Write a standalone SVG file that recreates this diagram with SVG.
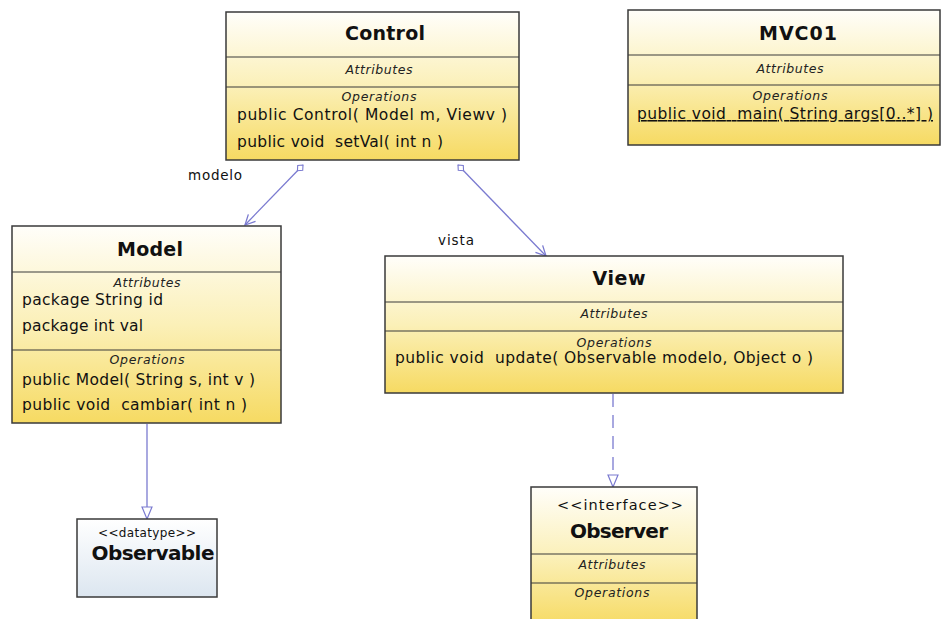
<svg xmlns="http://www.w3.org/2000/svg" width="942" height="619" viewBox="0 0 942 619">
<defs>
<linearGradient id="gy" x1="0" y1="0" x2="0" y2="1">
<stop offset="0" stop-color="#fffefa"/>
<stop offset="0.5" stop-color="#fbf0b8"/>
<stop offset="1" stop-color="#f6da62"/>
</linearGradient>
<linearGradient id="gb" x1="0" y1="0" x2="0" y2="1">
<stop offset="0" stop-color="#ffffff"/>
<stop offset="1" stop-color="#dce6f0"/>
</linearGradient>
<marker id="open" viewBox="0 0 12 12" refX="11" refY="6" markerWidth="12" markerHeight="12" markerUnits="userSpaceOnUse" orient="auto">
<path d="M1,1 L11,6 L1,11" fill="none" stroke="#7a7ad0" stroke-width="1.3"/>
</marker>
<marker id="tri" viewBox="0 0 14 12" refX="13" refY="6" markerWidth="14" markerHeight="12" markerUnits="userSpaceOnUse" orient="auto">
<path d="M1,1 L13,6 L1,11 Z" fill="#ffffff" stroke="#7a7ad0" stroke-width="1.2"/>
</marker>
<marker id="dia" viewBox="0 0 10 10" refX="1" refY="5" markerWidth="10" markerHeight="10" markerUnits="userSpaceOnUse" orient="auto">
<path d="M1,5 L5,1.5 L9,5 L5,8.5 Z" fill="#ffffff" stroke="#7a7ad0" stroke-width="1.1"/>
</marker>
</defs>
<style>
.box{stroke:#3a3a3a;stroke-width:1.5}
.sep{stroke:#3a3a3a;stroke-width:1.2}
text{white-space:pre}
.t{font-family:"DejaVu Sans",sans-serif;font-weight:bold;font-size:19px;fill:#111;text-anchor:middle}
.c{font-family:"DejaVu Sans",sans-serif;font-style:italic;font-size:12.5px;fill:#222;text-anchor:middle}
.m{font-family:"DejaVu Sans",sans-serif;font-size:15.5px;fill:#111}
.l{font-family:"DejaVu Sans",sans-serif;font-size:13.5px;fill:#111}
.s{font-family:"DejaVu Sans",sans-serif;font-size:14.5px;fill:#111;text-anchor:middle}
.e{fill:none;stroke:#7a7ad0;stroke-width:1.3}
</style>
<g id="connectors">
<line class="e" x1="303" y1="165" x2="245" y2="225" marker-start="url(#dia)" marker-end="url(#open)"/>
<line class="e" x1="458" y1="165" x2="546" y2="256" marker-start="url(#dia)" marker-end="url(#open)"/>
<line class="e" x1="147" y1="424" x2="147" y2="519" marker-end="url(#tri)"/>
<line class="e" x1="613" y1="394" x2="613" y2="487" stroke-dasharray="13,8" marker-end="url(#tri)"/>
<text class="l" x="188" y="180" textLength="54" lengthAdjust="spacing">modelo</text>
<text class="l" x="438" y="245" textLength="36" lengthAdjust="spacing">vista</text>
</g>
<g id="Control">
<rect class="box" x="226" y="12" width="293" height="148" fill="url(#gy)"/>
<line class="sep" x1="226" y1="57" x2="519" y2="57"/>
<line class="sep" x1="226" y1="87" x2="519" y2="87"/>
<text class="t" x="385" y="40" textLength="80" lengthAdjust="spacing">Control</text>
<text class="c" x="379" y="74" textLength="67" lengthAdjust="spacing">Attributes</text>
<text class="c" x="379" y="101" textLength="75" lengthAdjust="spacing">Operations</text>
<text class="m" x="237" y="120" textLength="270" lengthAdjust="spacing">public Control( Model m, Viewv )</text>
<text class="m" x="237" y="147" textLength="206" lengthAdjust="spacing">public void  setVal( int n )</text>
</g>
<g id="MVC01">
<rect class="box" x="628" y="10" width="312" height="135" fill="url(#gy)"/>
<line class="sep" x1="628" y1="55" x2="940" y2="55"/>
<line class="sep" x1="628" y1="85" x2="940" y2="85"/>
<text class="t" x="798" y="40" textLength="78" lengthAdjust="spacing">MVC01</text>
<text class="c" x="790" y="73" textLength="67" lengthAdjust="spacing">Attributes</text>
<text class="c" x="790" y="100" textLength="75" lengthAdjust="spacing">Operations</text>
<text class="m" x="637" y="119" textLength="296" lengthAdjust="spacing" text-decoration="underline">public void  main( String args[0..*] )</text>
</g>
<g id="Model">
<rect class="box" x="12" y="226" width="269" height="197" fill="url(#gy)"/>
<line class="sep" x1="12" y1="272" x2="281" y2="272"/>
<line class="sep" x1="12" y1="350" x2="281" y2="350"/>
<text class="t" x="150" y="256" textLength="66" lengthAdjust="spacing">Model</text>
<text class="c" x="147" y="287" textLength="67" lengthAdjust="spacing">Attributes</text>
<text class="m" x="22" y="305" textLength="141" lengthAdjust="spacing">package String id</text>
<text class="m" x="22" y="331" textLength="121" lengthAdjust="spacing">package int val</text>
<text class="c" x="147" y="364" textLength="75" lengthAdjust="spacing">Operations</text>
<text class="m" x="22" y="385" textLength="233" lengthAdjust="spacing">public Model( String s, int v )</text>
<text class="m" x="22" y="410" textLength="225" lengthAdjust="spacing">public void  cambiar( int n )</text>
</g>
<g id="View">
<rect class="box" x="385" y="256" width="458" height="137" fill="url(#gy)"/>
<line class="sep" x1="385" y1="302" x2="843" y2="302"/>
<line class="sep" x1="385" y1="331" x2="843" y2="331"/>
<text class="t" x="619" y="285" textLength="53" lengthAdjust="spacing">View</text>
<text class="c" x="614" y="318" textLength="67" lengthAdjust="spacing">Attributes</text>
<text class="c" x="614" y="347" textLength="75" lengthAdjust="spacing">Operations</text>
<text class="m" x="395" y="363" textLength="418" lengthAdjust="spacing">public void  update( Observable modelo, Object o )</text>
</g>
<g id="Observable">
<rect class="box" x="77" y="519" width="140" height="78" fill="url(#gb)"/>
<text class="s" x="147" y="537" style="font-size:12px" textLength="98" lengthAdjust="spacing">&lt;&lt;datatype&gt;&gt;</text>
<text class="t" x="153" y="560" style="font-size:20px" textLength="123" lengthAdjust="spacing">Observable</text>
</g>
<g id="Observer">
<rect class="box" x="531" y="487" width="166" height="140" fill="url(#gy)"/>
<line class="sep" x1="531" y1="554" x2="697" y2="554"/>
<line class="sep" x1="531" y1="583" x2="697" y2="583"/>
<text class="s" x="620" y="510" textLength="126" lengthAdjust="spacing">&lt;&lt;interface&gt;&gt;</text>
<text class="t" x="619" y="538" style="font-size:20px" textLength="98" lengthAdjust="spacing">Observer</text>
<text class="c" x="612" y="569" textLength="67" lengthAdjust="spacing">Attributes</text>
<text class="c" x="612" y="597" textLength="75" lengthAdjust="spacing">Operations</text>
</g>
</svg>
